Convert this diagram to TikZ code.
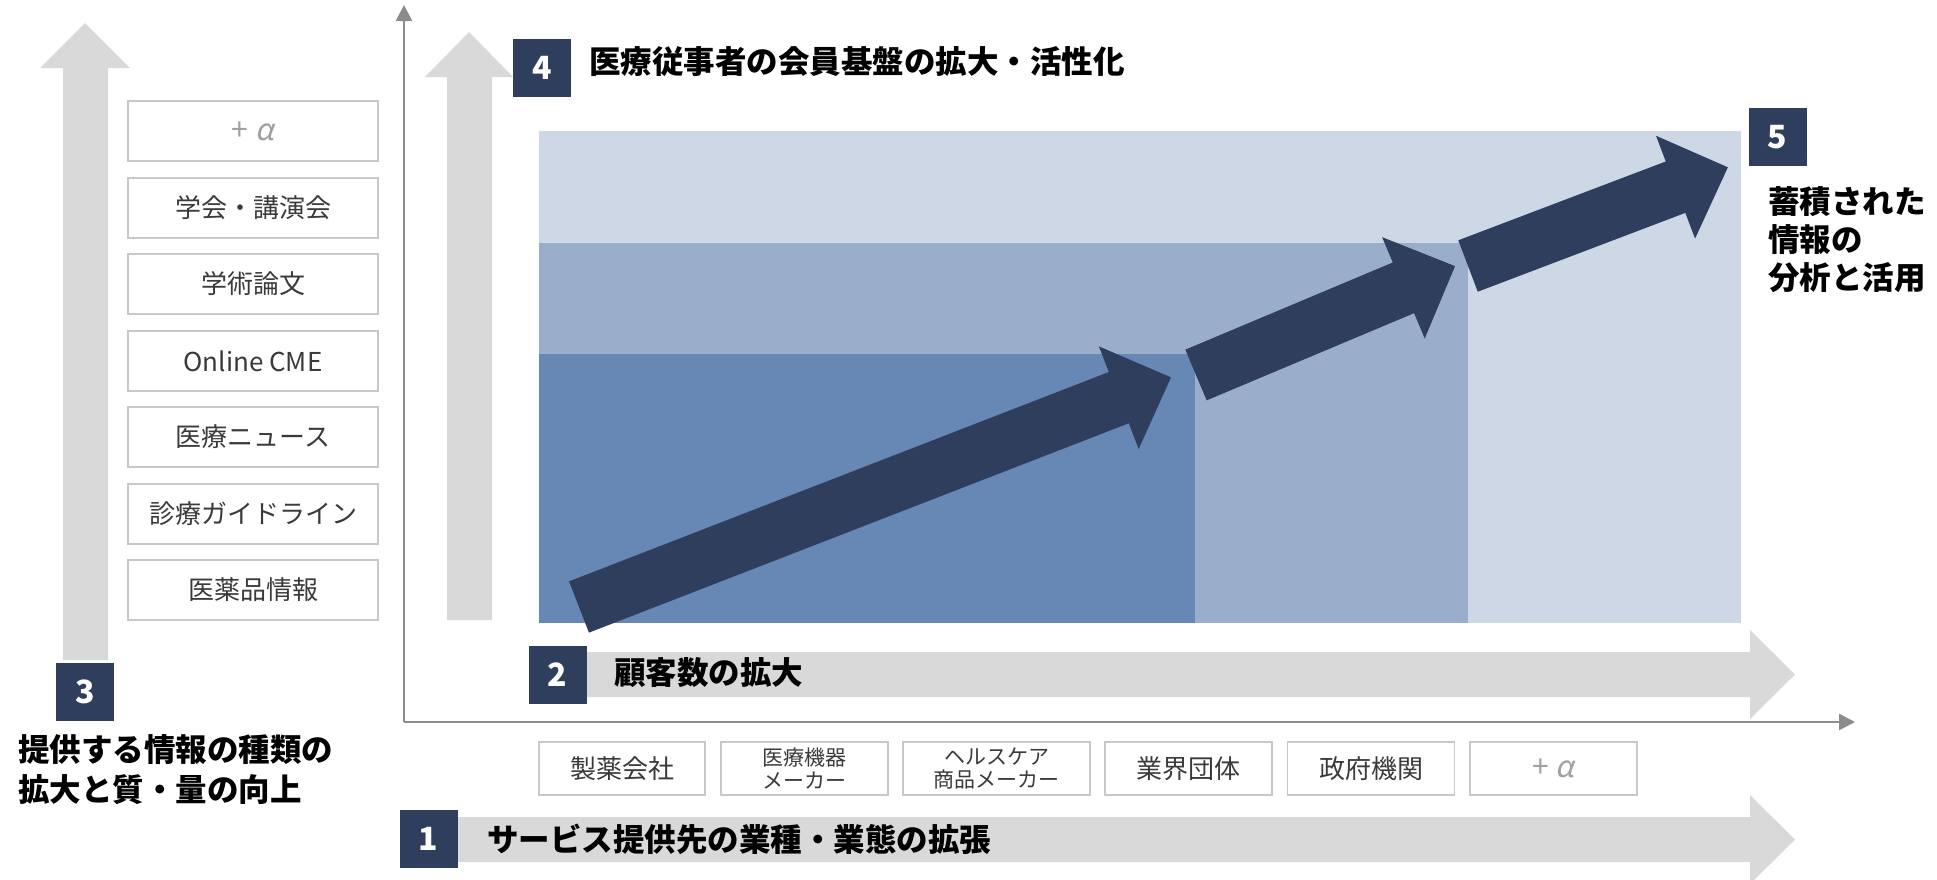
\documentclass[tikz,border=0pt]{standalone}
\usepackage{fontspec}
\setmainfont{Noto Sans CJK JP}
\newfontfamily\slantcjk[FakeSlant=0.2]{Noto Sans CJK JP}
\usetikzlibrary{arrows.meta}
\definecolor{navy}{HTML}{2E3E5C}
\definecolor{bglt}{HTML}{CDD7E6}
\definecolor{bgmd}{HTML}{9AAECC}
\definecolor{bgdk}{HTML}{6787B4}
\definecolor{grayarrow}{HTML}{D9D9D9}
\definecolor{axisgray}{HTML}{8C8C8C}
\definecolor{boxline}{HTML}{C8C8C8}
\definecolor{textgray}{HTML}{3A3A3A}
\definecolor{alphagray}{HTML}{A0A0A0}
\newcommand{\plusalpha}{+ {\slantcjk α}}
\tikzset{
  numbox/.style={fill=navy, minimum width=58pt, minimum height=58pt, inner sep=0pt, text=white, font=\fontsize{32}{32}\selectfont\bfseries},
  itembox/.style={draw=boxline, line width=1.5pt, fill=white, minimum width=250pt, minimum height=60pt, inner sep=0pt, text=textgray, font=\fontsize{26}{26}\selectfont},
  custbox/.style={draw=boxline, line width=1.5pt, fill=white, minimum height=53pt, inner sep=0pt, text=textgray, font=\fontsize{26}{26}\selectfont, align=center},
  alphatext/.style={text=alphagray, font=\fontsize{30}{30}\selectfont},
  bigtext/.style={anchor=west, inner sep=0pt, text=black, font=\fontsize{31.5}{38}\selectfont\bfseries, align=left},
  axisline/.style={draw=axisgray, line width=2.5pt, -{Triangle[length=16pt,width=16pt]}},
  darrow/.style={fill=navy},
}
\begin{document}
\begin{tikzpicture}[x=1pt,y=-1pt]
\useasboundingbox (0,0) rectangle (1937,879);
% background blocks
\fill[bglt] (539,131) rectangle (1741,623);
\fill[bgmd] (539,243) rectangle (1468,623);
\fill[bgdk] (539,354) rectangle (1195,623);
% gray arrows
\fill[grayarrow] (63,660) -- (63,68) -- (40,68) -- (85,23) -- (130,68) -- (108,68) -- (108,660) -- cycle;
\fill[grayarrow] (447,620) -- (447,77) -- (425,77) -- (469,32) -- (513,77) -- (492,77) -- (492,620) -- cycle;
\fill[grayarrow] (560,652) -- (1750,652) -- (1750,630) -- (1795,674.5) -- (1750,719) -- (1750,697) -- (560,697) -- cycle;
\fill[grayarrow] (440,817) -- (1750,817) -- (1750,795) -- (1795,839.5) -- (1750,884) -- (1750,862) -- (440,862) -- cycle;
% axes
\coordinate (origin) at (404,722);
\coordinate (ytop) at (404,5);
\coordinate (xend) at (1855,722);
\draw[axisline] (origin) -- (ytop);
\draw[axisline] (origin) -- (xend);
% dark growth arrows
\begin{scope}[shift={(579,607)}, rotate=21.2]
\fill[darrow] (0,-27.5) -- (579,-27.5) -- (579,-55) -- (635,0) -- (579,55) -- (579,27.5) -- (0,27.5) -- cycle;
\end{scope}
\begin{scope}[shift={(1196,375)}, rotate=22.8]
\fill[darrow] (0,-27.5) -- (225,-27.5) -- (225,-55) -- (281,0) -- (225,55) -- (225,27.5) -- (0,27.5) -- cycle;
\end{scope}
\begin{scope}[shift={(1468,266)}, rotate=20.8]
\fill[darrow] (0,-27.5) -- (222,-27.5) -- (222,-55) -- (278,0) -- (222,55) -- (222,27.5) -- (0,27.5) -- cycle;
\end{scope}
% left item boxes
\node[itembox, alphatext] (i7) at (253,131) {\plusalpha};
\node[itembox] (i6) at (253,208) {学会・講演会};
\node[itembox] (i5) at (253,284) {学術論文};
\node[itembox] (i4) at (253,361) {Online CME};
\node[itembox] (i3) at (253,437) {医療ニュース};
\node[itembox] (i2) at (253,514) {診療ガイドライン};
\node[itembox] (i1) at (253,590) {医薬品情報};
% customer boxes
\node[custbox, minimum width=166pt] (c1) at (622,768.5) {製薬会社};
\node[custbox, minimum width=167pt, font=\fontsize{21}{23}\selectfont] (c2) at (804.5,768.5) {医療機器\\メーカー};
\node[custbox, minimum width=187pt, font=\fontsize{21}{23}\selectfont] (c3) at (996.5,768.5) {ヘルスケア\\商品メーカー};
\node[custbox, minimum width=167pt] (c4) at (1188.5,768.5) {業界団体};
\node[custbox, minimum width=167pt] (c5) at (1371,768.5) {政府機関};
\node[custbox, minimum width=167pt, alphatext] (c6) at (1553.5,768.5) {\plusalpha};
% number boxes and labels
\node[numbox] (n1) at (428.5,839) {1};
\node[bigtext] (t1) at (487,839) {サービス提供先の業種・業態の拡張};
\node[numbox] (n2) at (557.5,675) {2};
\node[bigtext] (t2) at (614,673) {顧客数の拡大};
\node[numbox] (n3) at (85,692) {3};
\node[bigtext, font=\fontsize{31.5}{40}\selectfont\bfseries] (t3) at (18,770) {提供する情報の種類の\\拡大と質・量の向上};
\node[numbox] (n4) at (542,67.5) {4};
\node[bigtext] (t4) at (589,62) {医療従事者の会員基盤の拡大・活性化};
\node[numbox] (n5) at (1777.5,137) {5};
\node[bigtext] (t5) at (1768,240) {蓄積された\\情報の\\分析と活用};
\end{tikzpicture}
\end{document}
